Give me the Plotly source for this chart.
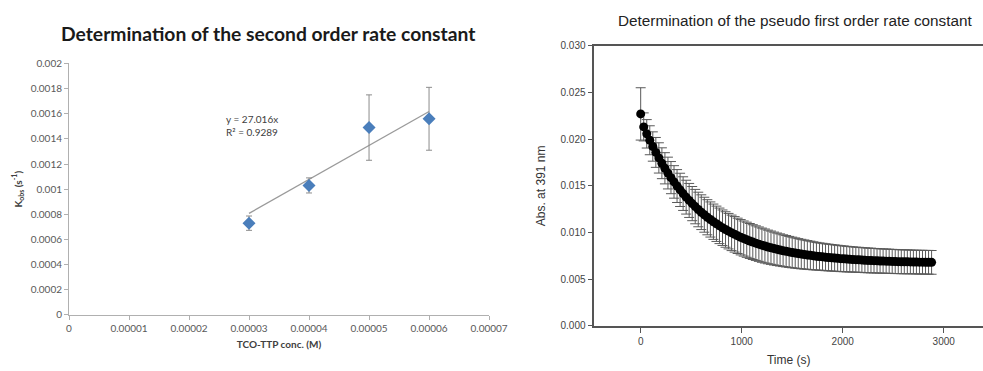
import plotly.graph_objects as go

# ---------------- Left chart data ----------------
conc = [0.00003, 0.00004, 0.00005, 0.00006]
kobs = [0.00073, 0.00103, 0.00149, 0.00156]
kobs_err = [0.000057, 0.00006, 0.00026, 0.00025]
trend_slope = 27.016
trend_intercept = -0.000003
trend_x = [0.00003, 0.00006]
left_xticks = [0, 0.00001, 0.00002, 0.00003, 0.00004, 0.00005, 0.00006, 0.00007]
left_xlabels = ["0", "0.00001", "0.00002", "0.00003", "0.00004", "0.00005", "0.00006", "0.00007"]
left_yticks = [0, 0.0002, 0.0004, 0.0006, 0.0008, 0.001, 0.0012, 0.0014, 0.0016, 0.0018, 0.002]
left_ylabels = ["0", "0.0002", "0.0004", "0.0006", "0.0008", "0.001", "0.0012", "0.0014", "0.0016", "0.0018", "0.002"]

# ---------------- Right chart data ----------------
time_s = [0, 30, 60, 90, 120, 150, 180, 210, 240, 270, 300,
          330, 360, 390, 420, 450, 480, 510, 540, 570, 600,
          630, 660, 690, 720, 750, 780, 810, 840, 870, 900,
          930, 960, 990, 1020, 1050, 1080, 1110, 1140, 1170, 1200,
          1230, 1260, 1290, 1320, 1350, 1380, 1410, 1440, 1470, 1500,
          1530, 1560, 1590, 1620, 1650, 1680, 1710, 1740, 1770, 1800,
          1830, 1860, 1890, 1920, 1950, 1980, 2010, 2040, 2070, 2100,
          2130, 2160, 2190, 2220, 2250, 2280, 2310, 2340, 2370, 2400,
          2430, 2460, 2490, 2520, 2550, 2580, 2610, 2640, 2670, 2700,
          2730, 2760, 2790, 2820, 2850, 2880]
absorbance = [0.0227,
              0.02131, 0.02057, 0.01988, 0.01921, 0.01858, 0.01799, 0.01742, 0.01688, 0.01637, 0.01588,
              0.01542, 0.01498, 0.01457, 0.01417, 0.01379, 0.01344, 0.01310, 0.01278, 0.01247, 0.01218,
              0.01191, 0.01164, 0.01140, 0.01116, 0.01094, 0.01072, 0.01052, 0.01033, 0.01015, 0.00997,
              0.00981, 0.00965, 0.00950, 0.00936, 0.00923, 0.00910, 0.00898, 0.00887, 0.00876, 0.00865,
              0.00856, 0.00846, 0.00838, 0.00829, 0.00821, 0.00814, 0.00806, 0.00800, 0.00793, 0.00787,
              0.00781, 0.00775, 0.00770, 0.00765, 0.00760, 0.00756, 0.00751, 0.00747, 0.00743, 0.00740,
              0.00736, 0.00733, 0.00730, 0.00727, 0.00724, 0.00721, 0.00719, 0.00716, 0.00714, 0.00712,
              0.00710, 0.00708, 0.00706, 0.00704, 0.00702, 0.00701, 0.00699, 0.00698, 0.00696, 0.00695,
              0.00694, 0.00693, 0.00691, 0.00690, 0.00689, 0.00688, 0.00687, 0.00687, 0.00686, 0.00685,
              0.00684, 0.00683, 0.00683, 0.00682, 0.00682, 0.00681]
abs_err = [0.0028,
           0.00150, 0.00152, 0.00155, 0.00157, 0.00160, 0.00162, 0.00165, 0.00167, 0.00170, 0.00172,
           0.00174, 0.00176, 0.00178, 0.00180, 0.00181, 0.00182, 0.00183, 0.00184, 0.00185, 0.00186,
           0.00187, 0.00188, 0.00188, 0.00189, 0.00189, 0.00190, 0.00190, 0.00190, 0.00190, 0.00190,
           0.00190, 0.00189, 0.00189, 0.00188, 0.00188, 0.00187, 0.00186, 0.00185, 0.00184, 0.00183,
           0.00182, 0.00180, 0.00178, 0.00176, 0.00174, 0.00172, 0.00170, 0.00168, 0.00166, 0.00164,
           0.00162, 0.00160, 0.00158, 0.00156, 0.00154, 0.00152, 0.00150, 0.00148, 0.00146, 0.00145,
           0.00144, 0.00143, 0.00142, 0.00141, 0.00140, 0.00139, 0.00138, 0.00137, 0.00136, 0.00135,
           0.00134, 0.00134, 0.00133, 0.00133, 0.00132, 0.00132, 0.00131, 0.00131, 0.00130, 0.00130,
           0.00130, 0.00129, 0.00129, 0.00129, 0.00128, 0.00128, 0.00128, 0.00128, 0.00127, 0.00127,
           0.00127, 0.00127, 0.00127, 0.00127, 0.00127, 0.00127]
right_xticks = [0, 1000, 2000, 3000]

fig = go.Figure()

# Left: trend line
trend_y = [trend_slope * x + trend_intercept for x in trend_x]
fig.add_trace(go.Scatter(x=trend_x, y=trend_y, mode="lines",
                         line=dict(color="#9a9a9a", width=1.3),
                         xaxis="x", yaxis="y", showlegend=False, hoverinfo="skip"))
# Left: data points
fig.add_trace(go.Scatter(x=conc, y=kobs, mode="markers",
                         marker=dict(symbol="diamond", size=10, color="#4a7ebb"),
                         error_y=dict(type="data", array=kobs_err, color="#8c8c8c",
                                      thickness=1, width=3),
                         xaxis="x", yaxis="y", showlegend=False))

# Right: kinetics data
fig.add_trace(go.Scatter(x=time_s, y=absorbance, mode="markers",
                         marker=dict(symbol="circle", size=9, color="black"),
                         error_y=dict(type="data", array=abs_err, color="#5a5a5a",
                                      thickness=1, width=5),
                         xaxis="x2", yaxis="y2", showlegend=False))

left_font = dict(family="Lato, Carlito, sans-serif", size=10, color="#595959")
right_font = dict(family="Liberation Sans, Arial, sans-serif", size=10, color="#444444")

fig.update_layout(
    width=983, height=371,
    margin=dict(l=0, r=0, t=0, b=0),
    paper_bgcolor="white", plot_bgcolor="white",
    xaxis=dict(domain=[0.0702, 0.4975], range=[0, 0.00007], automargin=False,
               tickvals=left_xticks, ticktext=left_xlabels,
               showline=True, linecolor="#b0b0b0", linewidth=1,
               ticks="outside", ticklen=4, tickcolor="#b0b0b0",
               showgrid=False, zeroline=False, tickfont=left_font,
               title=dict(text="<b>TCO-TTP conc. (M)</b>", standoff=8,
                          font=dict(family="Lato, Carlito, sans-serif", size=10, color="#404040"))),
    yaxis=dict(domain=[0.151, 0.829], range=[0, 0.002], automargin=False,
               tickvals=left_yticks, ticktext=left_ylabels,
               showline=True, linecolor="#b0b0b0", linewidth=1,
               ticks="outside", ticklen=4, tickcolor="#b0b0b0",
               showgrid=False, zeroline=False, tickfont=left_font,
               title=dict(text="<b>K<sub>obs</sub> (s<sup>-1</sup>)</b>", standoff=6,
                          font=dict(family="Lato, Carlito, sans-serif", size=10, color="#404040"))),
    xaxis2=dict(domain=[0.6046, 1.0], range=[-459, 3389], automargin=False,
                tickvals=right_xticks, tickformat="d",
                showline=True, linecolor="#555555", linewidth=1.5, mirror=True,
                ticks="outside", ticklen=5, tickcolor="#555555",
                showgrid=False, zeroline=False, tickfont=right_font,
                anchor="y2",
                title=dict(text="Time (s)", standoff=10,
                           font=dict(family="Liberation Sans, Arial, sans-serif", size=12, color="#333333"))),
    yaxis2=dict(domain=[0.1213, 0.8768], range=[0, 0.030], dtick=0.005, tickformat=".3f",
                automargin=False,
                showline=True, linecolor="#555555", linewidth=1.5,
                ticks="outside", ticklen=5, tickcolor="#555555",
                showgrid=False, zeroline=False, tickfont=right_font,
                anchor="x2",
                title=dict(text="Abs. at 391 nm", standoff=12,
                           font=dict(family="Liberation Sans, Arial, sans-serif", size=12, color="#333333"))),
    annotations=[
        dict(text="<b>Determination of the second order rate constant</b>",
             xref="paper", yref="paper", x=268 / 983, y=1 - 33 / 371,
             xanchor="center", yanchor="middle", showarrow=False,
             font=dict(family="Lato, Carlito, sans-serif", size=19.3, color="#1a1a1a")),
        dict(text="Determination of the pseudo first order rate constant",
             xref="paper", yref="paper", x=795 / 983, y=1 - 20 / 371,
             xanchor="center", yanchor="middle", showarrow=False,
             font=dict(family="Liberation Sans, Arial, sans-serif", size=15.3, color="#222222")),
        dict(text="y = 27.016x<br>R² = 0.9289",
             xref="paper", yref="paper", x=224 / 983, y=1 - 125 / 371,
             xanchor="left", yanchor="middle", showarrow=False, align="left",
             font=dict(family="Lato, Carlito, sans-serif", size=10, color="#404040")),
    ],
)

fig.write_html("out.html",
               config={"displayModeBar": False},
               post_script="document.body.style.margin='0px';document.body.style.overflow='hidden';")
